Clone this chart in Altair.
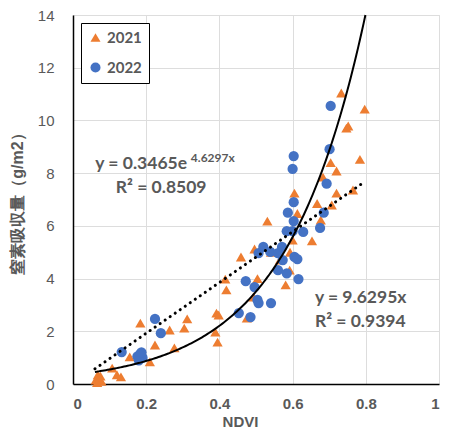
import altair as alt
import numpy as np
import pandas as pd

# ---- data ----
x2021 = [0.062, 0.068, 0.072, 0.078, 0.066, 0.075, 0.120, 0.131, 0.107, 0.155,
         0.184, 0.210, 0.224, 0.264, 0.277, 0.304, 0.312, 0.389, 0.395, 0.392,
         0.398, 0.416, 0.419, 0.459, 0.475, 0.493, 0.504, 0.496, 0.531, 0.541,
         0.565, 0.581, 0.592, 0.600, 0.593, 0.605, 0.613, 0.653, 0.667, 0.677,
         0.683, 0.704, 0.707, 0.720, 0.720, 0.733, 0.747, 0.752, 0.765, 0.784,
         0.797]
y2021 = [0.15, 0.35, 0.20, 0.10, 0.05, 0.30, 0.35, 0.27, 0.60, 1.03,
         2.31, 0.84, 1.48, 2.05, 1.37, 2.12, 2.47, 1.97, 1.59, 2.69,
         2.62, 3.98, 3.57, 4.82, 2.50, 3.30, 4.00, 5.12, 6.18, 5.00,
         4.70, 3.76, 4.32, 5.46, 5.00, 7.24, 6.47, 5.43, 6.85, 6.22,
         7.85, 8.40, 6.79, 8.08, 7.24, 11.04, 9.71, 9.79, 7.36, 8.52,
         10.43]
x2022 = [0.133, 0.176, 0.184, 0.190, 0.180, 0.187, 0.224, 0.240, 0.453, 0.485,
         0.472, 0.496, 0.504, 0.507, 0.541, 0.507, 0.520, 0.539, 0.560, 0.571,
         0.573, 0.560, 0.584, 0.605, 0.613, 0.616, 0.584, 0.600, 0.629, 0.603,
         0.587, 0.603, 0.675, 0.685, 0.693, 0.600, 0.603, 0.701, 0.704]
y2022 = [1.21, 1.05, 1.14, 1.00, 0.90, 1.20, 2.47, 1.93, 2.69, 2.54,
         3.90, 3.68, 3.19, 3.07, 3.07, 4.97, 5.20, 5.01, 4.97, 5.20,
         4.70, 4.32, 4.20, 4.82, 4.74, 3.98, 5.80, 5.80, 5.77, 6.18,
         6.50, 6.90, 5.92, 6.50, 7.60, 8.16, 8.65, 8.91, 10.55]

years = ["2021", "2022"]
colors = ["#ED7D31", "#4472C4"]
shapes = ["triangle-up", "circle"]

exp_a, exp_b = 0.3465, 4.6297      # y = 0.3465 e^(4.6297x)
lin_k = 9.6295                      # y = 9.6295x
trend_x0, lin_x1 = 0.06, 0.79

x_ticks = [0, 0.2, 0.4, 0.6, 0.8, 1]
y_ticks = [0, 2, 4, 6, 8, 10, 12, 14]

ann_main_x = [0.061, 0.117, 0.661, 0.661]
ann_main_y = [8.35, 7.44, 3.26, 2.35]
ann_main_t = ["y = 0.3465e", "R² = 0.8509", "y = 9.6295x", "R² = 0.9394"]
ann_sup_x = [0.322]
ann_sup_y = [8.58]
ann_sup_t = ["4.6297x"]

GREY = "#595959"
FONT = "Lato"

# ---- tables ----
pts = pd.DataFrame({
    "x": x2021 + x2022,
    "y": y2021 + y2022,
    "year": [years[0]] * len(x2021) + [years[1]] * len(x2022),
})
x_end = float(np.log(14 / exp_a) / exp_b)
xs = np.linspace(trend_x0, x_end, 150)
exp_df = pd.DataFrame({"x": xs, "y": exp_a * np.exp(exp_b * xs)})
lin_df = pd.DataFrame({"x": [trend_x0, lin_x1], "y": [lin_k * trend_x0, lin_k * lin_x1]})
ann_main = pd.DataFrame({"x": ann_main_x, "y": ann_main_y, "t": ann_main_t})
ann_sup = pd.DataFrame({"x": ann_sup_x, "y": ann_sup_y, "t": ann_sup_t})

xscale = alt.Scale(domain=[0, 1], nice=False)
yscale = alt.Scale(domain=[0, 14], nice=False)

xaxis = alt.Axis(values=x_ticks, format=".1~f", title="NDVI", ticks=False,
                 labelFontWeight="bold", labelFontSize=15, labelPadding=12,
                 labelColor=GREY, titleColor=GREY,
                 titleFontSize=15, titleFontWeight="bold", titlePadding=3,
                 titleX=167, titleAnchor="middle", titleAlign="center",
                 domainColor="black", domainWidth=1.5)
yaxis = alt.Axis(values=y_ticks, title="窒素吸収量（g/m2）", ticks=False,
                 labelFontSize=15, labelFontWeight="normal", labelPadding=19,
                 labelColor=GREY, titleColor=GREY,
                 titleFontSize=16, titleFontWeight="bold", titlePadding=12,
                 domainColor="black", domainWidth=1.5)

legend = alt.Legend(title=None, orient="none", legendX=8, legendY=8,
                    direction="vertical", padding=7, strokeColor="black",
                    fillColor="white", labelFontSize=15, labelFontWeight="bold",
                    labelColor=GREY, labelFont=FONT, symbolSize=100,
                    rowPadding=13, symbolOpacity=1, cornerRadius=0)

points = alt.Chart(pts).mark_point(filled=True, opacity=1, size=105).encode(
    x=alt.X("x:Q", scale=xscale, axis=xaxis),
    y=alt.Y("y:Q", scale=yscale, axis=yaxis),
    color=alt.Color("year:N", scale=alt.Scale(domain=years, range=colors), legend=legend),
    shape=alt.Shape("year:N", scale=alt.Scale(domain=years, range=shapes), legend=legend),
    order=alt.Order("year:N"),
)

exp_line = alt.Chart(exp_df).mark_line(color="black", strokeWidth=2).encode(
    x="x:Q", y="y:Q")
lin_line = alt.Chart(lin_df).mark_line(color="black", strokeWidth=3, strokeDash=[0.1, 6],
                                       strokeCap="round").encode(x="x:Q", y="y:Q")

txt_main = alt.Chart(ann_main).mark_text(align="left", baseline="middle", fontSize=17.5,
                                         fontWeight="bold", color=GREY, font=FONT).encode(
    x="x:Q", y="y:Q", text="t:N")
txt_sup = alt.Chart(ann_sup).mark_text(align="left", baseline="middle", fontSize=12,
                                       fontWeight="bold", color=GREY, font=FONT).encode(
    x="x:Q", y="y:Q", text="t:N")

chart = alt.layer(points, exp_line, lin_line, txt_main, txt_sup).properties(
    width=366, height=369,
    autosize=alt.AutoSizeParams(type="none"),
    padding={"left": 65, "top": 7, "right": 5, "bottom": 44},
).configure_view(stroke=GREY, strokeWidth=1.5).configure_axis(
    gridColor="#d9d9d9", gridWidth=1,
    labelFont=FONT, titleFont=FONT + ", Noto Sans CJK JP",
).configure(background="white")

chart.save("out.html", embed_options={"renderer": "svg", "actions": False})
